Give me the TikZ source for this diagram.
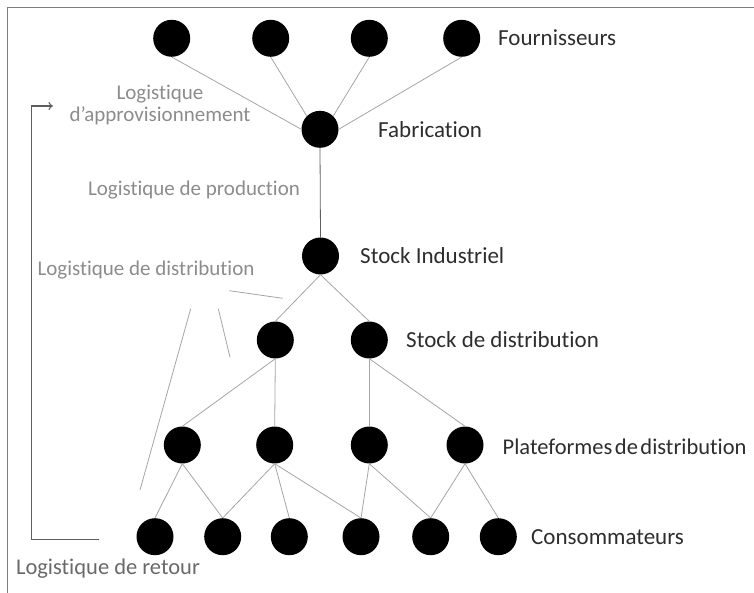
\documentclass[tikz,border=0pt]{standalone}
\usepackage{fontspec}
\setmainfont{Carlito}[Ligatures=NoCommon]
\usetikzlibrary{arrows.meta}
\definecolor{edgegray}{RGB}{165,165,165}
\definecolor{labelgray}{RGB}{140,140,140}
\definecolor{retourgray}{RGB}{105,105,105}
\definecolor{labeldark}{RGB}{45,45,45}
\definecolor{framegray}{RGB}{125,125,125}
\definecolor{loopgray}{RGB}{95,95,95}
\tikzset{
  site/.style={circle, fill=black, draw=none, minimum size=37pt, inner sep=0pt},
  link/.style={draw=edgegray, line width=0.8pt},
  mainlink/.style={draw=loopgray, line width=0.8pt},
  tier/.style={anchor=west, text=labeldark, font=\fontsize{23}{26}\selectfont, inner sep=0pt},
  flow/.style={text=labelgray, font=\fontsize{21}{22}\selectfont, inner sep=0pt, align=center},
}
\begin{document}
\begin{tikzpicture}[x=1pt, y=-1pt]
\useasboundingbox (0,0) rectangle (754,593);
% outer frame
\draw[framegray, line width=1pt] (754,7.5) -- (7.5,7.5) -- (7.5,593);

% suppliers
\node[site] (f1) at (171.7,38.3) {};
\node[site] (f2) at (270.7,38.3) {};
\node[site] (f3) at (369.3,38.3) {};
\node[site] (f4) at (461.7,38.3) {};
% manufacturing and industrial stock
\node[site] (fab) at (320,129.3) {};
\node[site] (si) at (320.5,256) {};
% distribution stocks
\node[site] (sd1) at (275.3,340) {};
\node[site] (sd2) at (369.3,340) {};
% distribution platforms
\node[site] (p1) at (182.3,445) {};
\node[site] (p2) at (274.7,445) {};
\node[site] (p3) at (369.3,445) {};
\node[site] (p4) at (465,445) {};
% consumers
\node[site] (c1) at (155,536.7) {};
\node[site] (c2) at (222.7,536.7) {};
\node[site] (c3) at (289.3,536.7) {};
\node[site] (c4) at (361,536.7) {};
\node[site] (c5) at (430.7,536.7) {};
\node[site] (c6) at (498.3,536.7) {};

% supply links
\draw[link] (f1.south) -- (fab.west);
\draw[link] (f2.south) -- (fab.north west);
\draw[link] (f3.south) -- (fab.north east);
\draw[link] (f4.south) -- (fab.east);
% production link
\draw[mainlink] (fab.south) -- (si.north);
% distribution links
\draw[link] (si.south) -- (sd1.north);
\draw[link] (si.south) -- (sd2.north);
\draw[link] (sd1.south) -- (p1.north);
\draw[link] (sd1.south) -- (p2.north);
\draw[link] (sd2.south) -- (p3.north);
\draw[link] (sd2.south) -- (p4.north);
\draw[link] (p1.south) -- (c1.north);
\draw[link] (p1.south) -- (c2.north);
\draw[link] (p2.south) -- (c2.north);
\draw[link] (p2.south) -- (c3.north);
\draw[link] (p2.south) -- (c4.north);
\draw[link] (p3.south) -- (c4.north);
\draw[link] (p3.south) -- (c5.north);
\draw[link] (p4.south) -- (c5.north);
\draw[link] (p4.south) -- (c6.north);

% tier labels
\node[tier] (lf) at (498,38) {Fournisseurs};
\node[tier] (lfab) at (378,129.5) {Fabrication};
\node[tier] (lsi) at (360,256) {Stock Industriel};
\node[tier] (lsd) at (406,340) {Stock de distribution};
\node[tier, font=\fontsize{22.5}{26}\selectfont] (lp) at (502.5,446.5) {\spaceskip=2.5pt Plateformes de distribution};
\node[tier] (lc) at (531,537.5) {Consommateurs};

% flow labels
\node[flow] (appro) at (160,105) {Logistique\\d’approvisionnement};
\node[flow] (prod) at (194,190) {Logistique de production};
\node[flow] (distri) at (146,270.5) {Logistique de distribution};
\node[flow, text=retourgray, font=\fontsize{22.5}{24}\selectfont] (retour) at (108,569) {Logistique de retour};

% pointer strokes under the distribution label
\coordinate (da1) at (229.3,290.7);
\coordinate (da2) at (282.7,298.3);
\coordinate (db1) at (218.3,308.7);
\coordinate (db2) at (230,357.3);
\coordinate (dc1) at (190.7,308.7);
\coordinate (dc2) at (140,490);
\draw[link] (da1) -- (da2);
\draw[link] (db1) -- (db2);
\draw[link] (dc1) -- (dc2);

% return loop
\coordinate (r0) at (99.3,539.3);
\coordinate (r1) at (31.7,539.3);
\coordinate (r2) at (31.7,106);
\coordinate (r3) at (53,106);
\draw[loopgray, line width=1.1pt, -{To[length=4.5pt,width=8pt]}] (r0) -- (r1) -- (r2) -- (r3);
\end{tikzpicture}
\end{document}
